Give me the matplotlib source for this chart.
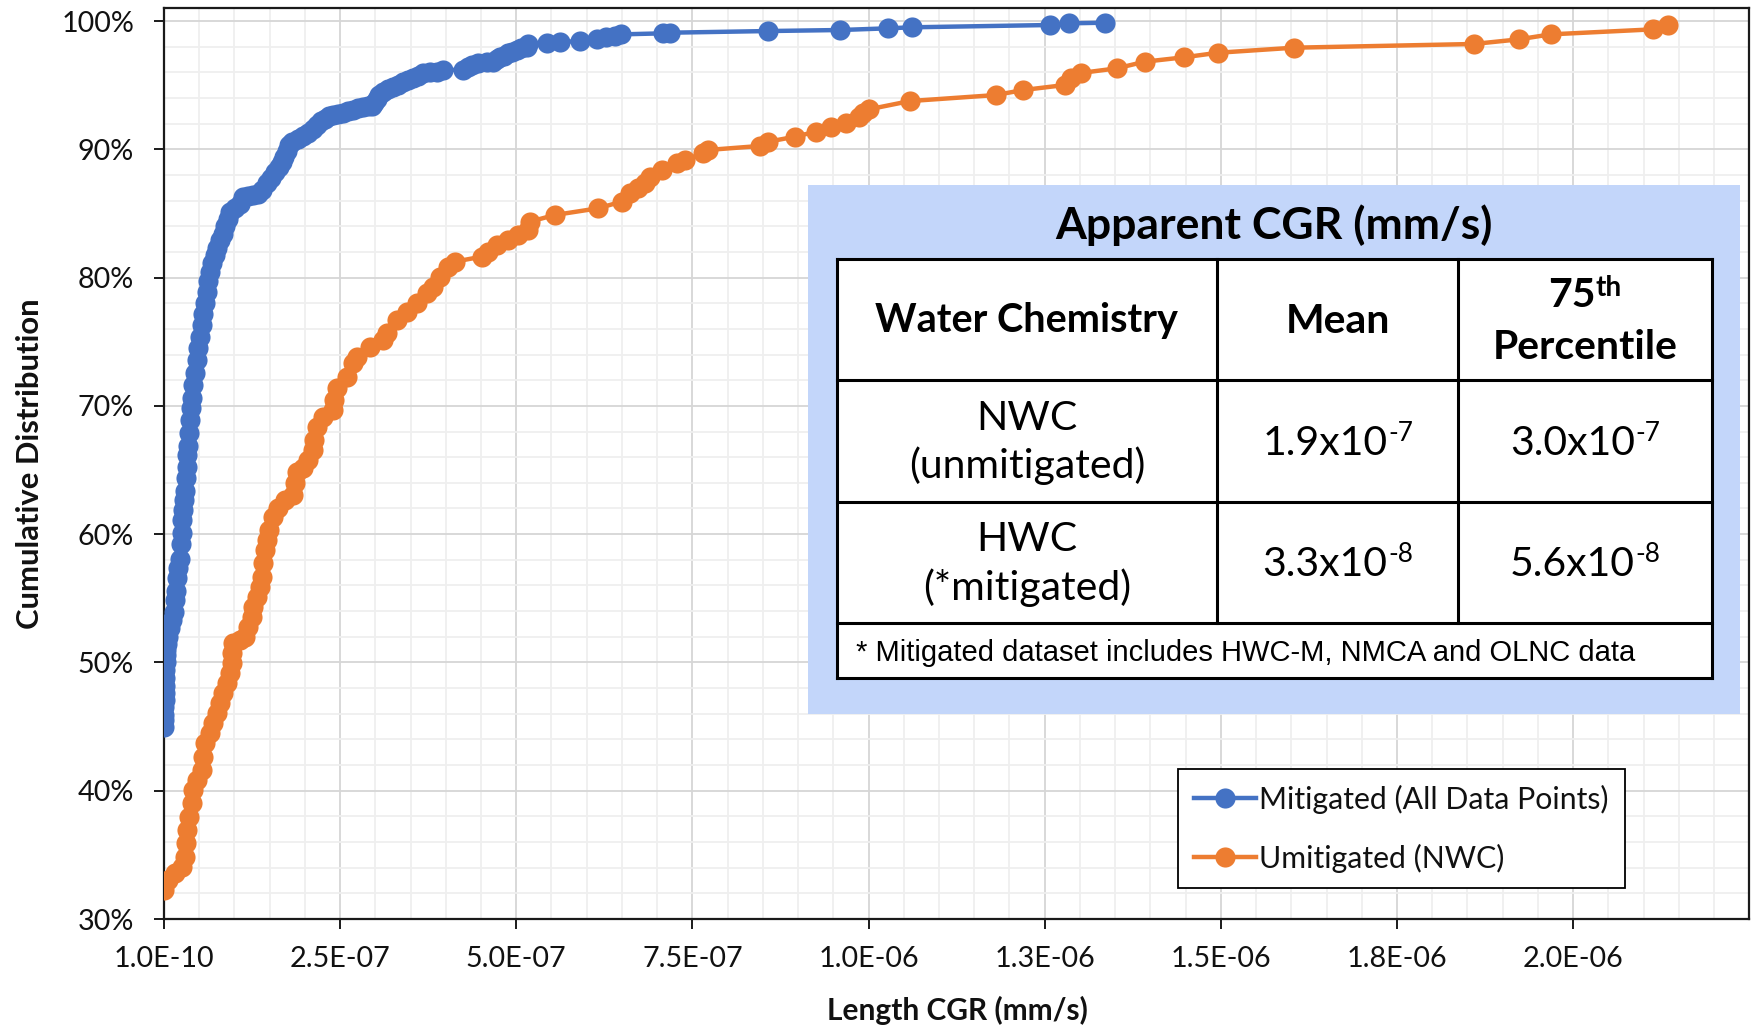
import matplotlib
matplotlib.use("Agg")
import matplotlib.pyplot as plt
from matplotlib.patches import Rectangle
from matplotlib.lines import Line2D
from matplotlib.ticker import PercentFormatter, MultipleLocator, FixedLocator

plt.rcParams['font.family'] = ['Lato', 'DejaVu Sans']

# ---------------- data ----------------
mitigated_x = [1.0e-10, 2e-10, 4e-10, 6e-10, 8.5e-10, 1.1e-9, 1.4e-9, 1.7e-9, 2.1e-9, 2.4e-9,
               2.8e-9, 3.5e-9, 4.3e-9, 6.1e-9, 8.5e-9, 1.14e-8,
               1.42e-8, 1.56e-8, 1.70e-8, 1.84e-8, 2.06e-8, 2.27e-8, 2.41e-8, 2.51e-8, 2.62e-8, 2.74e-8,
               2.84e-8, 2.98e-8, 3.12e-8, 3.22e-8, 3.33e-8, 3.45e-8, 3.55e-8, 3.69e-8, 3.83e-8, 3.97e-8,
               4.19e-8, 4.40e-8, 4.64e-8, 4.82e-8, 5.11e-8, 5.35e-8, 5.58e-8, 5.82e-8, 6.06e-8, 6.29e-8,
               6.53e-8, 6.81e-8, 7.24e-8, 7.52e-8, 7.95e-8, 8.37e-8, 8.73e-8, 9.08e-8, 9.36e-8, 1.007e-7,
               1.078e-7, 1.125e-7, 1.192e-7, 1.267e-7, 1.334e-7, 1.39e-7, 1.457e-7, 1.518e-7, 1.575e-7, 1.632e-7,
               1.670e-7, 1.71e-7, 1.741e-7, 1.774e-7, 1.816e-7, 1.906e-7, 1.972e-7, 2.047e-7, 2.114e-7, 2.167e-7,
               2.228e-7, 2.284e-7, 2.341e-7, 2.402e-7, 2.469e-7, 2.544e-7, 2.611e-7, 2.686e-7, 2.753e-7, 2.828e-7,
               2.895e-7, 2.947e-7, 2.98e-7, 3.018e-7, 3.05e-7, 3.112e-7, 3.178e-7, 3.254e-7, 3.32e-7, 3.395e-7,
               3.462e-7, 3.537e-7, 3.604e-7, 3.679e-7, 3.774e-7, 3.869e-7, 3.963e-7, 4.247e-7, 4.313e-7, 4.366e-7,
               4.46e-7, 4.583e-7, 4.672e-7, 4.725e-7, 4.767e-7, 4.824e-7, 4.885e-7, 4.938e-7, 5.004e-7, 5.065e-7,
               5.146e-7, 5.169e-7, 5.43e-7, 5.62e-7, 5.90e-7, 6.14e-7, 6.28e-7, 6.40e-7, 6.49e-7, 7.08e-7,
               7.18e-7, 8.58e-7, 9.60e-7, 1.027e-6, 1.061e-6, 1.258e-6, 1.284e-6, 1.335e-6]
mitigated_pct = [45.0, 45.5, 45.9, 46.5, 47.1, 47.6, 48.2, 48.8, 49.4, 50.0,
                 50.6, 51.0, 51.4, 52.0, 52.7, 53.3,
                 53.9, 54.9, 55.6, 56.6, 57.4, 58.1, 59.2, 60.1, 61.1, 61.9,
                 62.7, 63.4, 64.4, 65.2, 66.2, 66.9, 67.9, 68.9, 69.8, 70.6,
                 71.6, 72.6, 73.6, 74.5, 75.4, 76.3, 77.2, 78.0, 78.9, 79.7,
                 80.4, 81.1, 81.8, 82.3, 82.9, 83.4, 84.0, 84.6, 85.1, 85.4,
                 85.7, 86.3, 86.36, 86.42, 86.5, 86.8, 87.4, 87.8, 88.2, 88.6,
                 89.0, 89.4, 89.9, 90.3, 90.6, 90.8, 91.0, 91.3, 91.6, 91.9,
                 92.2, 92.4, 92.6, 92.67, 92.75, 92.83, 92.95, 93.06, 93.22, 93.32,
                 93.34, 93.37, 93.61, 93.92, 94.23, 94.49, 94.70, 94.83, 95.01, 95.25,
                 95.40, 95.53, 95.71, 95.91, 95.99, 96.05, 96.18, 96.20, 96.41, 96.57,
                 96.75, 96.77, 96.79, 97.04, 97.17, 97.31, 97.48, 97.62, 97.74, 97.86,
                 98.00, 98.21, 98.25, 98.36, 98.44, 98.57, 98.73, 98.83, 98.96, 99.04,
                 99.09, 99.22, 99.30, 99.43, 99.51, 99.69, 99.82, 99.87]

unmitigated_x = [1.0e-10, 6.1e-9, 1.56e-8, 2.51e-8, 2.98e-8, 3.12e-8, 3.31e-8, 3.59e-8, 3.93e-8, 4.16e-8,
                 4.64e-8, 5.35e-8, 5.58e-8, 5.82e-8, 6.53e-8, 7.00e-8, 7.48e-8, 7.95e-8, 8.41e-8, 8.90e-8,
                 9.36e-8, 9.61e-8, 9.65e-8, 9.83e-8, 1.078e-7, 1.149e-7, 1.196e-7, 1.244e-7, 1.267e-7, 1.315e-7,
                 1.362e-7, 1.386e-7, 1.400e-7, 1.433e-7, 1.457e-7, 1.494e-7, 1.551e-7, 1.622e-7, 1.717e-7, 1.835e-7,
                 1.859e-7, 1.883e-7, 1.977e-7, 2.047e-7, 2.118e-7, 2.125e-7, 2.167e-7, 2.260e-7, 2.402e-7, 2.41e-7,
                 2.450e-7, 2.592e-7, 2.686e-7, 2.734e-7, 2.923e-7, 3.112e-7, 3.160e-7, 3.302e-7, 3.444e-7, 3.586e-7,
                 3.727e-7, 3.821e-7, 3.916e-7, 4.034e-7, 4.129e-7, 4.508e-7, 4.602e-7, 4.721e-7, 4.885e-7, 5.027e-7,
                 5.169e-7, 5.193e-7, 5.548e-7, 6.162e-7, 6.494e-7, 6.612e-7, 6.730e-7, 6.825e-7, 6.896e-7, 7.062e-7,
                 7.275e-7, 7.392e-7, 7.652e-7, 7.723e-7, 8.457e-7, 8.574e-7, 8.953e-7, 9.251e-7, 9.474e-7, 9.677e-7,
                 9.866e-7, 9.922e-7, 1.0008e-6, 1.0585e-6, 1.1805e-6, 1.2193e-6, 1.2784e-6, 1.2879e-6, 1.3011e-6, 1.3522e-6,
                 1.392e-6, 1.4473e-6, 1.4965e-6, 1.6034e-6, 1.8588e-6, 1.9226e-6, 1.968e-6, 2.1127e-6, 2.134e-6]
unmitigated_pct = [32.27, 33.05, 33.57, 34.08, 34.86, 35.91, 36.95, 37.98, 39.03, 40.06,
                   40.84, 41.62, 42.66, 43.70, 44.48, 45.26, 46.04, 46.82, 47.60, 48.38,
                   49.16, 49.94, 50.72, 51.50, 51.75, 52.01, 52.79, 53.57, 54.35, 55.13,
                   55.91, 56.69, 57.73, 58.77, 59.55, 60.33, 61.36, 62.02, 62.67, 63.06,
                   63.97, 64.87, 65.14, 65.78, 66.56, 67.34, 68.38, 69.16, 69.68, 70.46,
                   71.37, 72.28, 73.32, 73.84, 74.61, 75.14, 75.66, 76.70, 77.34, 78.00,
                   78.78, 79.29, 80.07, 80.85, 81.24, 81.63, 82.02, 82.54, 82.93, 83.32,
                   83.71, 84.36, 84.88, 85.40, 85.92, 86.57, 86.96, 87.37, 87.84, 88.39,
                   88.91, 89.17, 89.69, 89.95, 90.26, 90.59, 90.98, 91.37, 91.76, 92.07,
                   92.49, 92.85, 93.12, 93.76, 94.23, 94.62, 95.01, 95.53, 95.95, 96.31,
                   96.83, 97.17, 97.53, 97.92, 98.21, 98.57, 98.96, 99.35, 99.69]

series_labels = ["Mitigated (All Data Points)", "Umitigated (NWC)"]
x_tick_values = [1.0e-10, 2.5e-7, 5.0e-7, 7.5e-7, 1.0e-6, 1.25e-6, 1.5e-6, 1.75e-6, 2.0e-6]
x_tick_labels = ["1.0E-10", "2.5E-07", "5.0E-07", "7.5E-07", "1.0E-06", "1.3E-06", "1.5E-06", "1.8E-06", "2.0E-06"]

table_title = "Apparent CGR (mm/s)"
header_labels = ["Water Chemistry", "Mean", "Percentile"]
header_p75_base, header_p75_sup = "75", "th"
row_labels = [("NWC", "(unmitigated)"), ("HWC", "(*mitigated)")]
row_means = [("1.9x10", "-7"), ("3.3x10", "-8")]
row_p75 = [("3.0x10", "-7"), ("5.6x10", "-8")]
footnote = "* Mitigated dataset includes HWC-M, NMCA and OLNC data"

BLUE = "#4472C4"
ORANGE = "#ED7D31"

# ---------------- figure ----------------
W, H = 1755, 1026
fig = plt.figure(figsize=(W / 100, H / 100), dpi=100)

def fx(px):
    return px / W

def fy(py):
    return 1 - py / H

ax_l, ax_r, ax_t, ax_b = 164, 1749.3, 8.2, 919
ax = fig.add_axes([fx(ax_l), fy(ax_b), fx(ax_r) - fx(ax_l), fy(ax_t) - fy(ax_b)])

ax.plot(mitigated_x, mitigated_pct, '-o', color=BLUE, lw=3.2, ms=14.5, mew=0, zorder=3,
        label=series_labels[0])
ax.plot(unmitigated_x, unmitigated_pct, '-o', color=ORANGE, lw=3.2, ms=14.5, mew=0, zorder=3,
        label=series_labels[1])

ax.set_xlim(1.0e-10, 2.25e-6)
ax.set_ylim(30, 101)
ax.xaxis.set_major_locator(FixedLocator(x_tick_values))
ax.set_xticklabels(x_tick_labels)
ax.xaxis.set_minor_locator(MultipleLocator(5e-8))
ax.yaxis.set_major_locator(MultipleLocator(10))
ax.yaxis.set_minor_locator(MultipleLocator(2))
ax.yaxis.set_major_formatter(PercentFormatter(100, decimals=0))

ax.set_axisbelow(True)
ax.grid(which='major', color='#d6d6d6', lw=1.3)
ax.grid(which='minor', color='#efefef', lw=1.3)
for sp in ax.spines.values():
    sp.set_color('#1a1a1a')
    sp.set_linewidth(1.6)
ax.tick_params(which='major', direction='out', length=7.5, width=1.4, color='#1a1a1a',
               labelsize=20.7, labelcolor='#111111')
ax.tick_params(axis='x', which='major', pad=12)
ax.tick_params(axis='y', which='major', pad=14)
ax.tick_params(which='minor', length=0)

fig.text(fx(957), fy(1010), "Length CGR (mm/s)", ha='center', va='center',
         fontsize=21.5, fontweight='bold', color='#111111')
fig.text(fx(30), fy(464), "Cumulative Distribution", ha='center', va='center', rotation=90,
         fontsize=22.3, fontweight='bold', color='#111111')

# ---------------- legend ----------------
leg = ax.legend(loc='upper left', bbox_to_anchor=(fx(1178), fy(769)), bbox_transform=fig.transFigure,
                borderaxespad=0, fontsize=21.8, frameon=True, fancybox=False, framealpha=1,
                edgecolor='black', borderpad=0.52, labelspacing=0.98, handlelength=2.05,
                handletextpad=0.12)
leg.get_frame().set_linewidth(1.3)
leg.set_zorder(6)
for t in leg.get_texts():
    t.set_color('#111111')

# ---------------- table overlay ----------------
def frect(x0, y0, x1, y1, **kw):
    r = Rectangle((fx(x0), fy(y1)), fx(x1) - fx(x0), fy(y0) - fy(y1), transform=fig.transFigure, **kw)
    fig.add_artist(r)

def fline(x0, y0, x1, y1, lw=2.2):
    fig.add_artist(Line2D([fx(x0), fx(x1)], [fy(y0), fy(y1)], transform=fig.transFigure,
                          color='black', lw=lw, solid_capstyle='projecting', zorder=11))

frect(808, 185, 1740, 714, facecolor='#c3d6fa', edgecolor='none', zorder=9)
t_l, t_r = 836.5, 1711.7
c1, c2 = 1217.2, 1457.7
r0, r1, r2, r3, r4 = 258.5, 379.7, 501.6, 623.2, 677.6
frect(t_l, r0, t_r, r4, facecolor='white', edgecolor='none', zorder=10)
for yy in (r0, r1, r2, r3, r4):
    fline(t_l, yy, t_r, yy)
fline(t_l, r0, t_l, r4)
fline(t_r, r0, t_r, r4)
fline(c1, r0, c1, r3)
fline(c2, r0, c2, r3)

col_c = [(t_l + c1) / 2, (c1 + c2) / 2, (c2 + t_r) / 2]

def ftext(px, py, s, **kw):
    kw.setdefault('zorder', 12)
    kw.setdefault('color', 'black')
    return fig.text(fx(px), fy(py), s, **kw)

renderer = fig.canvas.get_renderer()

def sup_text(cx, base_y, base, sup, size, weight='normal', raise_px=13, sup_scale=0.64):
    t1 = ftext(0, base_y, base, ha='left', va='baseline', fontsize=size, fontweight=weight)
    t2 = ftext(0, base_y - raise_px, sup, ha='left', va='baseline', fontsize=size * sup_scale,
               fontweight=weight)
    w1 = t1.get_window_extent(renderer).width
    w2 = t2.get_window_extent(renderer).width
    left = cx - (w1 + w2) / 2
    t1.set_x(fx(left))
    t2.set_x(fx(left + w1 + 0.5))

TS = 29.5
ftext(1274, 238.5, table_title, ha='center', va='baseline', fontsize=32, fontweight='bold')
ftext(col_c[0], 331.5, header_labels[0], ha='center', va='baseline', fontsize=28.5, fontweight='bold')
ftext(col_c[1], 333.2, header_labels[1], ha='center', va='baseline', fontsize=TS, fontweight='bold')
sup_text(col_c[2], 307.4, header_p75_base, header_p75_sup, TS, weight='bold', raise_px=11, sup_scale=0.68)
ftext(col_c[2], 359, header_labels[2], ha='center', va='baseline', fontsize=TS, fontweight='bold')

base_rows = [(429.7, 477.9, 455.0), (551.2, 600.1, 576.0)]
for i, (ya, yb, yv) in enumerate(base_rows):
    ftext(col_c[0], ya, row_labels[i][0], ha='center', va='baseline', fontsize=TS)
    ftext(col_c[0], yb, row_labels[i][1], ha='center', va='baseline', fontsize=TS)
    sup_text(col_c[1], yv, row_means[i][0], row_means[i][1], TS, raise_px=14)
    sup_text(col_c[2], yv, row_p75[i][0], row_p75[i][1], TS, raise_px=14)

ftext(856, 661.4, footnote, ha='left', va='baseline', fontsize=21, family='Liberation Sans')

fig.savefig("out.png", dpi=100)
